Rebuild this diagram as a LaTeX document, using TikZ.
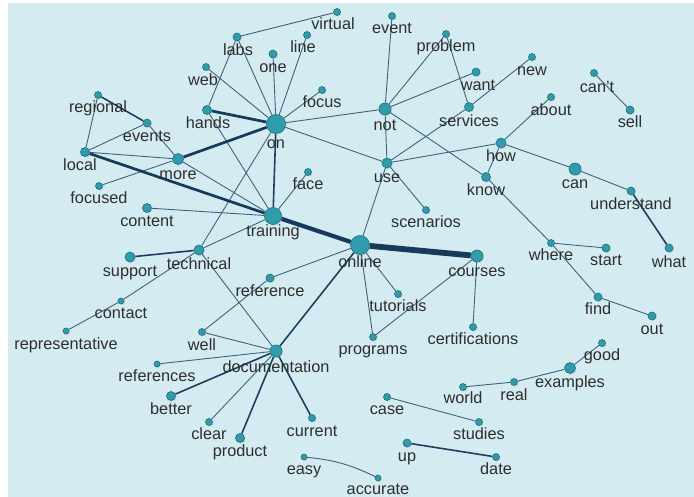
\documentclass[tikz,border=0pt]{standalone}
\usepackage{fontspec}
\setmainfont{Liberation Sans}
\usetikzlibrary{backgrounds,shadows}

\definecolor{paper}{HTML}{D4EBF1}
\definecolor{dotfill}{HTML}{2F9CAB}
\definecolor{dotline}{HTML}{1D6E7B}
\definecolor{linkcol}{HTML}{42637C}
\definecolor{strongcol}{HTML}{163A5B}
\definecolor{wordcol}{HTML}{2E2E2E}

\tikzset{
  dot/.style={circle, fill=dotfill, draw=dotline, line width=0.6pt, inner sep=0pt, minimum size=7pt,
    drop shadow={opacity=0.22, shadow xshift=1pt, shadow yshift=-1pt}},
  word/.style={text=wordcol, font=\fontsize{16.3}{17}\selectfont, inner sep=0pt, anchor=mid, yshift=-3pt},
  link/.style={draw=linkcol, line width=0.9pt},
  midlink/.style={draw=strongcol!85!linkcol, line width=1.6pt},
  heavylink/.style={draw=strongcol, line width=2.7pt}
}

\begin{document}
\begin{tikzpicture}[x=1pt, y=-1pt]
    \useasboundingbox (0,0) rectangle (694,497);

    % the dots
    \node[dot, minimum size=19pt] (on) at (276,124) {};
    \node[dot, minimum size=17pt] (training) at (273,216) {};
    \node[dot, minimum size=19pt] (online) at (360,245) {};
    \node[dot, minimum size=12pt] (documentation) at (276,351) {};
    \node[dot, minimum size=11pt] (more) at (178,159) {};
    \node[dot, minimum size=12pt] (not) at (385,109) {};
    \node[dot, minimum size=10pt] (use) at (387,163) {};
    \node[dot, minimum size=10pt] (how) at (501,143) {};
    \node[dot, minimum size=12pt] (can) at (575,169) {};
    \node[dot, minimum size=12pt] (courses) at (477,256) {};
    \node[dot, minimum size=11pt] (examples) at (570,368) {};
    \node[dot, minimum size=10pt] (support) at (130,257) {};
    \node[dot, minimum size=10pt] (technical) at (199,250) {};
    \node[dot, minimum size=9pt] (better) at (171,396) {};
    \node[dot, minimum size=9pt] (product) at (240,438) {};
    \node[dot, minimum size=9pt] (hands) at (207,110) {};
    \node[dot, minimum size=9pt] (local) at (85,152) {};
    \node[dot, minimum size=9pt] (know) at (486,177) {};
    \node[dot, minimum size=9pt] (services) at (469,107) {};
    \node[dot, minimum size=9pt] (content) at (147,208) {};
    \node[dot] (virtual) at (337,12) {};
    \node[dot, minimum size=8pt] (labs) at (237,37) {};
    \node[dot] (line) at (307,35) {};
    \node[dot, minimum size=8pt] (one) at (273,54) {};
    \node[dot] (web) at (206,67) {};
    \node[dot] (focus) at (322,90) {};
    \node[dot] (regional) at (98,95) {};
    \node[dot, minimum size=8pt] (events) at (147,123) {};
    \node[dot] (focused) at (99,186) {};
    \node[dot] (face) at (308,172) {};
    \node[dot, minimum size=8pt] (reference) at (270,278) {};
    \node[dot, minimum size=6pt] (contact) at (121,301) {};
    \node[dot, minimum size=6pt] (representative) at (66,331) {};
    \node[dot] (well) at (202,332) {};
    \node[dot, minimum size=6pt] (references) at (157,364) {};
    \node[dot] (clear) at (209,422) {};
    \node[dot] (current) at (312,418) {};
    \node[dot, minimum size=6pt] (easy) at (304,457) {};
    \node[dot, minimum size=6pt] (accurate) at (378,478) {};
    \node[dot] (tutorials) at (398,294) {};
    \node[dot] (certifications) at (473,327) {};
    \node[dot] (programs) at (373,337) {};
    \node[dot] (event) at (392,16) {};
    \node[dot] (problem) at (446,34) {};
    \node[dot, minimum size=8pt] (want) at (476,72) {};
    \node[dot] (new) at (532,57) {};
    \node[dot] (cant) at (594,73) {};
    \node[dot] (about) at (551,97) {};
    \node[dot, minimum size=8pt] (sell) at (630,110) {};
    \node[dot, minimum size=8pt] (understand) at (631,191) {};
    \node[dot] (scenarios) at (426,210) {};
    \node[dot] (where) at (551,243) {};
    \node[dot, minimum size=8pt] (start) at (606,248) {};
    \node[dot, minimum size=8pt] (what) at (669,248) {};
    \node[dot, minimum size=8pt] (find) at (598,297) {};
    \node[dot, minimum size=8pt] (out) at (652,316) {};
    \node[dot] (good) at (602,343) {};
    \node[dot] (real) at (514,382) {};
    \node[dot] (world) at (463,387) {};
    \node[dot] (case) at (387,397) {};
    \node[dot] (studies) at (479,422) {};
    \node[dot, minimum size=8pt] (up) at (407,443) {};
    \node[dot] (date) at (496,457) {};

    \begin{pgfonlayer}{background}
        \fill[white] (0,0) rectangle (694,497);
        \fill[paper] (8,3) rectangle (694,497);

        % plain links
        \draw[link] (virtual) -- (labs) (labs) -- (on) (labs) -- (hands)
            (line) -- (on) (one) -- (on) (web) -- (on) (focus) -- (on)
            (hands) -- (training) (on) -- (not) (on) -- (use) (on) -- (technical);
        \draw[link] (regional) -- (local) (local) -- (events) (local) -- (more)
            (events) -- (more) (more) -- (focused) (more) -- (training)
            (face) -- (training) (content) -- (training) (training) -- (technical);
        \draw[link] (technical) -- (contact) (contact) -- (representative)
            (technical) -- (documentation) (reference) -- (online) (reference) -- (well)
            (well) -- (documentation) (documentation) -- (references) (documentation) -- (clear);
        \draw[link] (online) -- (use) (online) -- (tutorials) (online) -- (programs)
            (courses) -- (programs) (courses) -- (certifications);
        \draw[link] (use) -- (not) (use) -- (services) (use) -- (how) (use) -- (scenarios)
            (not) -- (event) (not) -- (problem) (not) -- (want) (not) -- (know)
            (problem) -- (services) (services) -- (new);
        \draw[link] (how) -- (about) (how) -- (know) (how) -- (can) (can) -- (understand)
            (know) -- (where) (where) -- (start) (where) -- (find) (find) -- (out)
            (cant) -- (sell);
        \draw[link] (good) -- (examples) (examples) -- (real) (real) -- (world)
            (case) -- (studies) (easy) to[bend left=10] (accurate);

        % stronger links
        \draw[midlink] (on) -- (training) (regional) -- (events) (technical) -- (support)
            (documentation) -- (online) (documentation) -- (better) (documentation) -- (product)
            (documentation) -- (current) (understand) -- (what) (up) -- (date);
        \draw[heavylink] (hands) -- (on) (on) -- (more) (local) -- (training);
        \draw[strongcol, line width=4.2pt] (training) -- (online);
        \draw[strongcol, line width=5.8pt] (online) -- (courses);
    \end{pgfonlayer}

    % the words
    \node[word] (on-t) at (276,143) {on};
    \node[word] (training-t) at (273,231) {training};
    \node[word] (online-t) at (360,262) {online};
    \node[word] (documentation-t) at (276,367) {documentation};
    \node[word] (more-t) at (178,174) {more};
    \node[word] (not-t) at (385,125) {not};
    \node[word] (use-t) at (387,177) {use};
    \node[word] (how-t) at (501,156) {how};
    \node[word] (can-t) at (575,183) {can};
    \node[word] (courses-t) at (477,271) {courses};
    \node[word] (examples-t) at (570,382) {examples};
    \node[word] (support-t) at (130,271) {support};
    \node[word] (technical-t) at (199,264) {technical};
    \node[word] (better-t) at (171,409) {better};
    \node[word] (product-t) at (240,451) {product};
    \node[word] (hands-t) at (208,123) {hands};
    \node[word] (local-t) at (80,165) {local};
    \node[word] (know-t) at (486,190) {know};
    \node[word] (services-t) at (469,121) {services};
    \node[word] (content-t) at (147,221) {content};
    \node[word] (virtual-t) at (333,24) {virtual};
    \node[word] (labs-t) at (238,50) {labs};
    \node[word] (line-t) at (303,47) {line};
    \node[word] (one-t) at (273,67) {one};
    \node[word] (web-t) at (203,80) {web};
    \node[word] (focus-t) at (322,102) {focus};
    \node[word] (regional-t) at (98,107) {regional};
    \node[word] (events-t) at (147,136) {events};
    \node[word] (focused-t) at (99,198) {focused};
    \node[word] (face-t) at (308,184) {face};
    \node[word] (reference-t) at (270,291) {reference};
    \node[word] (contact-t) at (121,313) {contact};
    \node[word] (representative-t) at (66,344) {representative};
    \node[word] (well-t) at (202,345) {well};
    \node[word] (references-t) at (157,376) {references};
    \node[word] (clear-t) at (209,434) {clear};
    \node[word] (current-t) at (312,431) {current};
    \node[word] (easy-t) at (304,469) {easy};
    \node[word] (accurate-t) at (378,489) {accurate};
    \node[word] (tutorials-t) at (398,306) {tutorials};
    \node[word] (certifications-t) at (473,339) {certifications};
    \node[word] (programs-t) at (373,349) {programs};
    \node[word] (event-t) at (392,28) {event};
    \node[word] (problem-t) at (446,46) {problem};
    \node[word] (want-t) at (478,85) {want};
    \node[word] (new-t) at (532,70) {new};
    \node[word] (cant-t) at (597,87) {can't};
    \node[word] (about-t) at (551,110) {about};
    \node[word] (sell-t) at (630,122) {sell};
    \node[word] (understand-t) at (631,204) {understand};
    \node[word] (scenarios-t) at (426,222) {scenarios};
    \node[word] (where-t) at (551,255) {where};
    \node[word] (start-t) at (606,260) {start};
    \node[word] (what-t) at (669,262) {what};
    \node[word] (find-t) at (598,309) {find};
    \node[word] (out-t) at (652,329) {out};
    \node[word] (good-t) at (602,355) {good};
    \node[word] (real-t) at (514,395) {real};
    \node[word] (world-t) at (463,398) {world};
    \node[word] (case-t) at (387,409) {case};
    \node[word] (studies-t) at (479,434) {studies};
    \node[word] (up-t) at (407,456) {up};
    \node[word] (date-t) at (496,469) {date};
\end{tikzpicture}
\end{document}
